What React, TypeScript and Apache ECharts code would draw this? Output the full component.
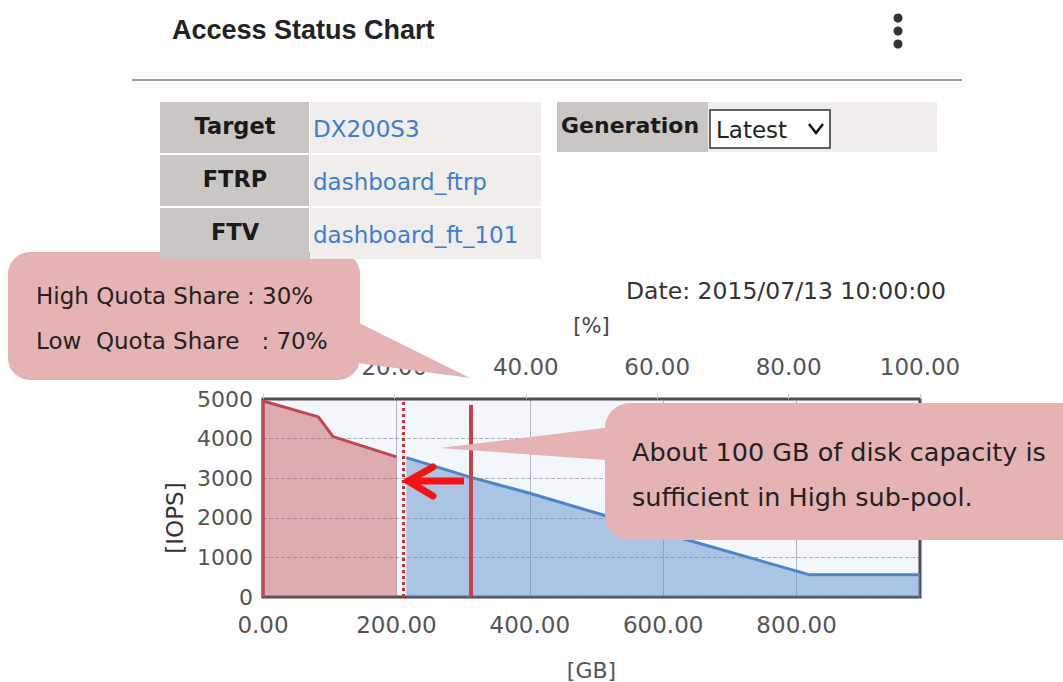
import React, { useEffect, useRef } from "react";
import * as echarts from "echarts";

// ---- data ----
const highGB = [0, 0, 83, 105, 200];
const highIOPS = [0, 4950, 4550, 4050, 3540];
const lowGB = [215, 312, 400, 510, 630, 820, 985];
const lowIOPS = [3520, 3020, 2620, 2070, 1470, 560, 560];
const quotaBoundaryGB = 210;
const requiredGB = 312;
const requiredTopIOPS = 4850;
const xMaxGB = 985;
const yTicks = [0, 1000, 2000, 3000, 4000, 5000];
const pctTicks = [0, 20, 40, 60, 80, 100];

const tableLabels = ["Target", "FTRP", "FTV"];
const tableValues = ["DX200S3", "dashboard_ftrp", "dashboard_ft_101"];
const titleText = "Access Status Chart";
const dateText = "Date: 2015/07/13 10:00:00";
const quotaLines = ["High Quota Share : 30%", "Low  Quota Share   : 70%"];
const noteLines = ["About 100 GB of disk capacity is", "sufficient in High sub-pool."];

const FONT = '"DejaVu Sans", sans-serif';
const PINK = "#e5b3b3";

function txt(x: number, y: number, text: string, font: string, fill: string, align = "left") {
  return {
    type: "text",
    x,
    y,
    z: 120,
    style: {
      text,
      font,
      fill,
      align,
      verticalAlign: "middle",
      textAlign: align,
      textVerticalAlign: "middle",
    },
  };
}

export default function App() {
  const ref = useRef<HTMLDivElement>(null);
  useEffect(() => {
    if (!ref.current) return;
    const chart = echarts.init(ref.current, undefined, { renderer: "svg" });

    const graphics: any[] = [];
    // header
    graphics.push(txt(172, 30, titleText, 'bold 27px "Liberation Sans", Arial, sans-serif', "#222"));
    [18, 31, 44].forEach((cy) =>
      graphics.push({ type: "circle", z: 120, shape: { cx: 898, cy, r: 4.5 }, style: { fill: "#333" } })
    );
    graphics.push({
      type: "line",
      z: 120,
      shape: { x1: 132, y1: 80, x2: 962, y2: 80 },
      style: { stroke: "#a0a0a0", lineWidth: 2 },
    });
    // table
    const rowTops = [102, 155, 208];
    tableLabels.forEach((lab, i) => {
      const y0 = rowTops[i];
      graphics.push({ type: "rect", z: 110, shape: { x: 160, y: y0, width: 149, height: 51 }, style: { fill: "#cac6c4" } });
      graphics.push({ type: "rect", z: 110, shape: { x: 310, y: y0, width: 231, height: 51 }, style: { fill: "#f0edeb" } });
      graphics.push(txt(235, y0 + 24, lab, `bold 22.5px ${FONT}`, "#1a1a1a", "center"));
      graphics.push(txt(313, y0 + 27, tableValues[i], `23px ${FONT}`, "#3a7fd0"));
    });
    graphics.push({ type: "rect", z: 110, shape: { x: 557, y: 102, width: 151, height: 50 }, style: { fill: "#cac6c4" } });
    graphics.push({ type: "rect", z: 110, shape: { x: 708, y: 102, width: 229, height: 50 }, style: { fill: "#f0edeb" } });
    graphics.push(txt(561, 125, "Generation", `bold 22px ${FONT}`, "#1a1a1a"));
    graphics.push({
      type: "rect",
      z: 115,
      shape: { x: 710, y: 110, width: 120, height: 38 },
      style: { fill: "#ffffff", stroke: "#333", lineWidth: 1.5 },
    });
    graphics.push(txt(716, 130, "Latest", `23px ${FONT}`, "#222"));
    graphics.push({
      type: "polyline",
      z: 120,
      shape: { points: [[809, 124], [816, 133], [823, 124]] },
      style: { stroke: "#111", lineWidth: 2.5, fill: "none" },
    });
    graphics.push(txt(626, 291, dateText, `23.5px ${FONT}`, "#333"));

    // callout 1
    graphics.push({
      type: "polygon",
      z: 100,
      shape: { points: [[345, 316], [470, 378], [350, 362]] },
      style: { fill: PINK },
    });
    graphics.push({
      type: "rect",
      z: 100,
      shape: { x: 8, y: 252, width: 352, height: 128, r: 22 },
      style: { fill: PINK },
    });
    graphics.push(txt(36, 296, quotaLines[0], `23px ${FONT}`, "#222"));
    graphics.push(txt(36, 341, quotaLines[1], `23px ${FONT}`, "#222"));

    // callout 2
    graphics.push({
      type: "polygon",
      z: 100,
      shape: { points: [[440, 448], [620, 426], [620, 461]] },
      style: { fill: PINK },
    });
    graphics.push({
      type: "rect",
      z: 100,
      shape: { x: 605, y: 403, width: 480, height: 137, r: 25 },
      style: { fill: PINK },
    });
    graphics.push(txt(632, 452, noteLines[0], `25.5px ${FONT}`, "#222"));
    graphics.push(txt(632, 497, noteLines[1], `25.5px ${FONT}`, "#222"));

    // red arrow
    graphics.push({
      type: "line",
      z: 105,
      shape: { x1: 464, y1: 481, x2: 412, y2: 481 },
      style: { stroke: "#ff1010", lineWidth: 7 },
    });
    graphics.push({
      type: "polyline",
      z: 105,
      shape: { points: [[433, 467], [408, 481], [433, 496]] },
      style: { stroke: "#ff1010", lineWidth: 7, lineCap: "round", lineJoin: "miter", fill: "none" },
    });

    const option: any = {
      animation: false,
      backgroundColor: "#ffffff",
      grid: {
        left: 263,
        top: 399,
        width: 657,
        height: 198,
        show: true,
        backgroundColor: "#f3f7fc",
        borderColor: "#4a4a4a",
        borderWidth: 3,
      },
      xAxis: [
        {
          type: "value",
          position: "bottom",
          min: 0,
          max: xMaxGB,
          interval: 200,
          axisLine: { show: false },
          axisTick: { show: false },
          axisLabel: {
            color: "#555",
            fontSize: 23,
            fontFamily: FONT,
            margin: 16,
            formatter: (v: number) => (v % 200 === 0 ? v.toFixed(2) : ""),
          },
          splitLine: { show: true, lineStyle: { color: "rgba(90,100,120,0.45)", width: 1 } },
          name: "[GB]",
          nameLocation: "middle",
          nameGap: 62,
          nameTextStyle: { color: "#555", fontSize: 22, fontFamily: FONT },
        },
        {
          type: "value",
          position: "top",
          min: pctTicks[0],
          max: pctTicks[pctTicks.length - 1],
          interval: 20,
          axisLine: { show: false },
          axisTick: { show: true, length: 5, lineStyle: { color: "#c8c8c8" } },
          axisLabel: {
            color: "#555",
            fontSize: 23,
            fontFamily: FONT,
            margin: 21,
            formatter: (v: number) => v.toFixed(2),
          },
          splitLine: { show: false },
          name: "[%]",
          nameLocation: "middle",
          nameGap: 63,
          nameTextStyle: { color: "#444", fontSize: 21, fontFamily: FONT },
        },
      ],
      yAxis: {
        type: "value",
        min: yTicks[0],
        max: yTicks[yTicks.length - 1],
        interval: 1000,
        axisLine: { show: false },
        axisTick: { show: false },
        axisLabel: { color: "#555", fontSize: 22, fontFamily: FONT, margin: 10, formatter: (v: number) => String(v) },
        splitLine: { show: true, lineStyle: { color: "rgba(90,90,110,0.45)", type: "dashed", width: 1 } },
        name: "[IOPS]",
        nameLocation: "middle",
        nameGap: 64,
        nameTextStyle: { color: "#333", fontSize: 23, fontFamily: FONT, padding: [0, 40, 0, 0] },
      },
      series: [
        {
          name: "High",
          type: "line",
          xAxisIndex: 0,
          showSymbol: false,
          data: highGB.map((x, i) => [x, highIOPS[i]]),
          lineStyle: { color: "#c0474d", width: 3 },
          areaStyle: { color: "rgba(192,84,90,0.47)", opacity: 1, origin: "start" },
          z: 3,
        },
        {
          name: "Low",
          type: "line",
          xAxisIndex: 0,
          showSymbol: false,
          data: lowGB.map((x, i) => [x, lowIOPS[i]]),
          lineStyle: { color: "#4a86c8", width: 3 },
          areaStyle: { color: "rgba(97,145,204,0.5)", opacity: 1, origin: "start" },
          z: 3,
          markLine: {
            silent: true,
            symbol: "none",
            label: { show: false },
            data: [
              { xAxis: quotaBoundaryGB, lineStyle: { color: "#c8303a", type: "dotted", width: 3 } },
              [
                { coord: [requiredGB, 0], lineStyle: { color: "#c8404a", type: "solid", width: 4 } },
                { coord: [requiredGB, requiredTopIOPS] },
              ],
            ],
          },
        },
      ],
      graphic: graphics,
    };
    chart.setOption(option);
    return () => chart.dispose();
  }, []);
  return (
    <div
      ref={ref}
      style={{ position: "absolute", left: 0, top: 0, width: 1063, height: 682 }}
    />
  );
}
